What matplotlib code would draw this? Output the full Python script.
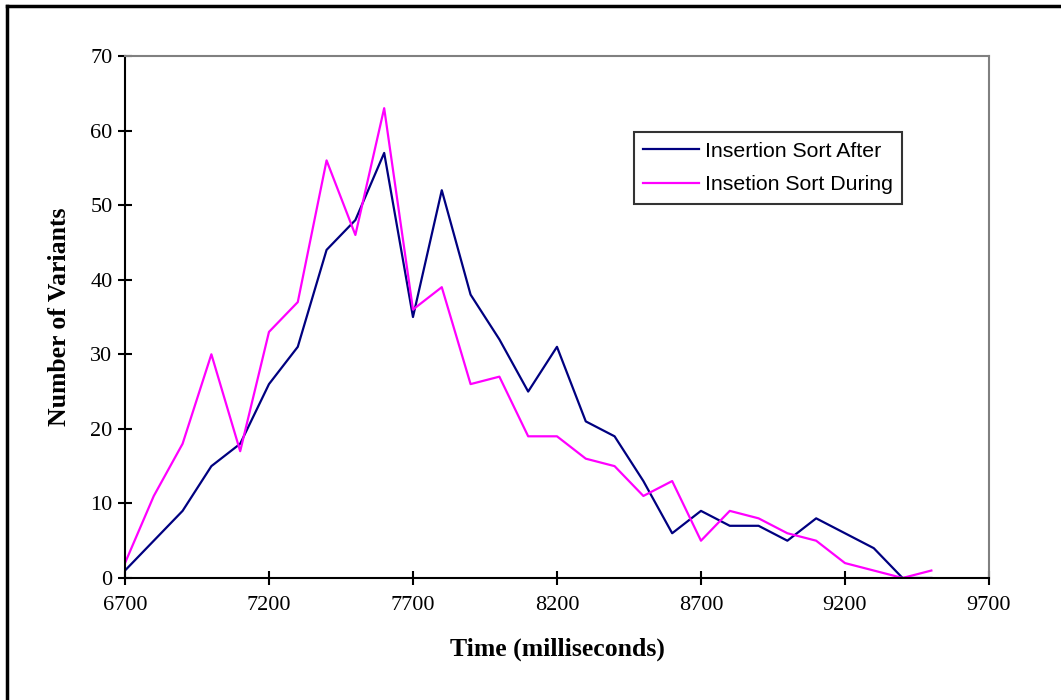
"""Insertion sort timing distribution: after vs during.
"""
import matplotlib.pyplot as plt
from matplotlib.lines import Line2D

# time bins (ms)
time_ms = [6700, 6800, 6900, 7000, 7100, 7200, 7300, 7400, 7500, 7600,
           7700, 7800, 7900, 8000, 8100, 8200, 8300, 8400, 8500, 8600,
           8700, 8800, 8900, 9000, 9100, 9200, 9300, 9400, 9500]

# number of variants per bin
sort_after = [1, 5, 9, 15, 18, 26, 31, 44, 48, 57,
              35, 52, 38, 32, 25, 31, 21, 19, 13, 6,
              9, 7, 7, 5, 8, 6, 4, 0, 0]
sort_during = [2, 11, 18, 30, 17, 33, 37, 56, 46, 63,
               36, 39, 26, 27, 19, 19, 16, 15, 11, 13,
               5, 9, 8, 6, 5, 2, 1, 0, 1]

x_ticks = [6700, 7200, 7700, 8200, 8700, 9200, 9700]
y_ticks = [0, 10, 20, 30, 40, 50, 60, 70]

SERIF = 'Liberation Serif'
SANS = 'Liberation Sans'

fig = plt.figure(figsize=(10.61, 7.0), dpi=100)
ax = fig.add_axes([0.1178, 0.1743, 0.8143, 0.7457])

ax.plot(time_ms, sort_after, color='#000080', lw=1.6, label='Insertion Sort After')
ax.plot(time_ms, sort_during, color='#ff00ff', lw=1.6, label='Insetion Sort During')

ax.set_xlim(6700, 9700)
ax.set_ylim(0, 70)
ax.set_xticks(x_ticks)
ax.set_yticks(y_ticks)

ax.tick_params(direction='inout', length=10, width=1.5, colors='black',
               labelsize=16)
ax.tick_params(axis='x', pad=8)
ax.tick_params(axis='y', pad=4)
for lab in ax.get_xticklabels() + ax.get_yticklabels():
    lab.set_fontfamily(SERIF)

for side in ['left', 'bottom']:
    ax.spines[side].set_color('black')
    ax.spines[side].set_linewidth(1.5)
for side in ['top', 'right']:
    ax.spines[side].set_color('#808080')
    ax.spines[side].set_linewidth(1.5)

ax.set_xlabel('Time (milliseconds)', fontfamily=SERIF, fontweight='bold',
              fontsize=18.5, labelpad=16)
ax.set_ylabel('Number of Variants', fontfamily=SERIF, fontweight='bold',
              fontsize=18.5, labelpad=14)

leg = ax.legend(loc='upper left', bbox_to_anchor=(0.589, 0.8544),
                prop={'family': SANS, 'size': 15.3}, frameon=True,
                fancybox=False, borderpad=0.45, handlelength=2.6,
                handletextpad=0.3, labelspacing=0.7, borderaxespad=0)
leg.get_frame().set_edgecolor('black')
leg.get_frame().set_linewidth(1.5)

# outer border (top and left edges only visible)
fig.add_artist(Line2D([0.0066, 1.0], [0.9914, 0.9914], color='black', lw=2.5))
fig.add_artist(Line2D([0.0066, 0.0066], [0.0, 0.9914], color='black', lw=2.5))

plt.savefig('out.png', dpi=100)
